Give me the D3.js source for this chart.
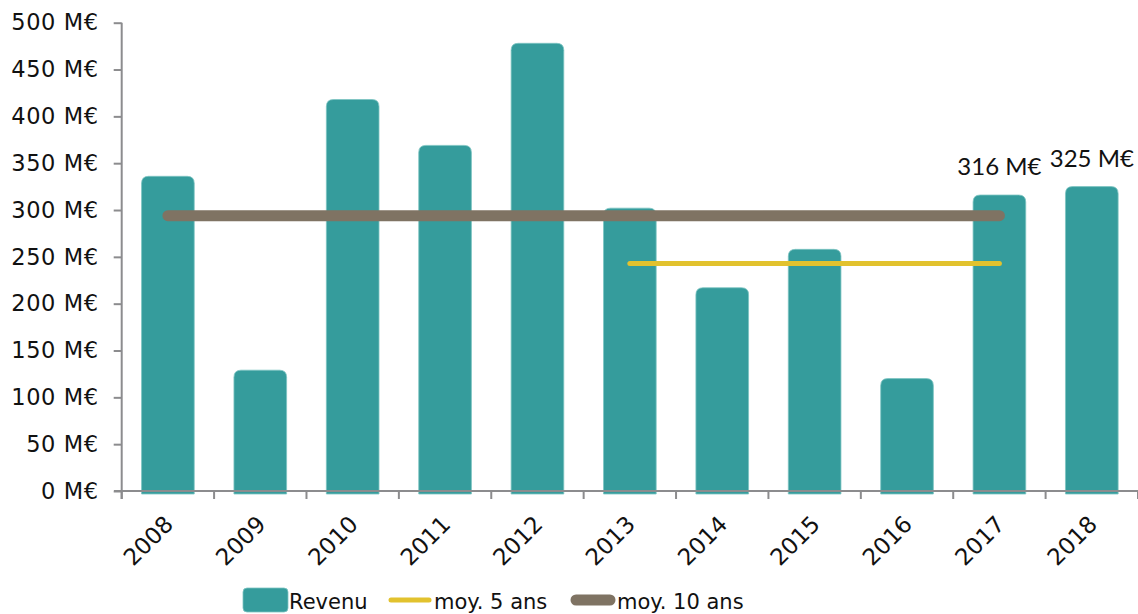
<!DOCTYPE html>
<html>
<head>
<meta charset="utf-8">
<script src="https://cdn.jsdelivr.net/npm/d3@7/dist/d3.min.js"></script>
<style>
  html, body { margin: 0; padding: 0; background: #ffffff; }
  svg { display: block; }
</style>
</head>
<body>
<script>
// Annual revenue (M€) with 5- and 10-year averages
const years   = ["2008", "2009", "2010", "2011", "2012", "2013", "2014", "2015", "2016", "2017", "2018"];
const revenue = [336, 129, 418, 369, 478, 302, 217, 258, 120, 316, 325];
const labelledYears = ["2017", "2018"];

const avg5Value  = 243;
const avg5Span   = ["2013", "2017"];
const avg10Value = 294;
const avg10Span  = ["2008", "2017"];

const yTicks = [0, 50, 100, 150, 200, 250, 300, 350, 400, 450, 500];
const legendItems = ["Revenu", "moy. 5 ans", "moy. 10 ans"];

const W = 1138, H = 614;
const colors = { bar: "#359c9c", barEdge: "#7cc4c2", avg5: "#e2c22e", avg10: "#7f7363", axis: "#8c8c8e", text: "#111111" };

const svg = d3.select("body").append("svg").attr("width", W).attr("height", H);
svg.append("rect").attr("width", W).attr("height", H).attr("fill", "#ffffff");

const x = d3.scaleBand().domain(years).range([121.7, 1138]).paddingInner(0.43).paddingOuter(0.215);
const y = d3.scaleLinear().domain([0, 500]).range([491, 22.7]);
const cx = d => x(d) + x.bandwidth() / 2;

// Bars with rounded top corners
function topRoundedBar(x0, yTop, w, yBottom, r) {
  r = Math.min(r, (yBottom - yTop), w / 2);
  return `M${x0},${yBottom}V${yTop + r}Q${x0},${yTop} ${x0 + r},${yTop}H${x0 + w - r}Q${x0 + w},${yTop} ${x0 + w},${yTop + r}V${yBottom}Z`;
}

const data = years.map((yr, i) => ({ year: yr, value: revenue[i] }));

svg.append("g").selectAll("path").data(data).join("path")
  .attr("d", d => topRoundedBar(x(d.year), y(d.value), x.bandwidth(), y(0) + 3, 7))
  .attr("fill", colors.bar)
  .attr("stroke", colors.barEdge)
  .attr("stroke-width", 0.8);

// Y axis
const yAxis = svg.append("g").attr("transform", "translate(121.7,0)")
  .call(d3.axisLeft(y).tickValues(yTicks).tickSize(8).tickPadding(15).tickFormat(d => `${d} M€`));
yAxis.select(".domain").attr("d", `M0,${y(500)}V${y(0) + 8}`);
yAxis.selectAll("path, line").attr("stroke", colors.axis).attr("stroke-width", 2);
yAxis.selectAll("text")
  .attr("fill", colors.text)
  .style("font-family", "'DejaVu Sans', Verdana, sans-serif")
  .style("font-size", "22.5px")
  .style("letter-spacing", "0.6px");

// X axis: baseline and ticks on category boundaries
const xAxis = svg.append("g");
xAxis.append("line")
  .attr("x1", 114).attr("x2", W).attr("y1", y(0)).attr("y2", y(0))
  .attr("stroke", colors.axis).attr("stroke-width", 2);
const step = x.step();
const x0 = x.range()[0];
xAxis.selectAll("line.tick").data(d3.range(years.length + 1)).join("line")
  .attr("class", "tick")
  .attr("x1", i => x0 + i * step).attr("x2", i => x0 + i * step)
  .attr("y1", y(0)).attr("y2", y(0) + 8)
  .attr("stroke", colors.axis).attr("stroke-width", 2);

xAxis.selectAll("text").data(years).join("text")
  .attr("transform", d => `translate(${cx(d) + 1},${y(0) + 29}) rotate(-45)`)
  .attr("text-anchor", "end")
  .attr("dy", "0.35em")
  .attr("fill", colors.text)
  .style("font-family", "'DejaVu Sans', Verdana, sans-serif")
  .style("font-size", "23px")
  .text(d => d);

// Average lines
svg.append("line")
  .attr("x1", cx(avg10Span[0])).attr("x2", cx(avg10Span[1]))
  .attr("y1", y(avg10Value)).attr("y2", y(avg10Value))
  .attr("stroke", colors.avg10).attr("stroke-width", 11).attr("stroke-linecap", "round");
svg.append("line")
  .attr("x1", cx(avg5Span[0])).attr("x2", cx(avg5Span[1]))
  .attr("y1", y(avg5Value)).attr("y2", y(avg5Value))
  .attr("stroke", colors.avg5).attr("stroke-width", 5).attr("stroke-linecap", "round");

// Value labels
svg.append("g").selectAll("text").data(data.filter(d => labelledYears.includes(d.year))).join("text")
  .attr("x", d => cx(d.year))
  .attr("y", d => y(d.value) - 20)
  .attr("text-anchor", "middle")
  .attr("fill", colors.text)
  .style("font-family", "Lato, 'Open Sans', sans-serif")
  .style("font-size", "24px")
  .text(d => `${d.value} M€`);

// Legend
const legend = svg.append("g")
  .style("font-family", "'DejaVu Sans', Verdana, sans-serif")
  .style("font-size", "21px");
legend.append("rect").attr("x", 243).attr("y", 588).attr("width", 45).attr("height", 24).attr("rx", 4)
  .attr("fill", colors.bar).attr("stroke", colors.barEdge).attr("stroke-width", 0.8);
legend.append("text").attr("x", 289).attr("y", 609).attr("fill", colors.text).text(legendItems[0]);
legend.append("line").attr("x1", 391).attr("x2", 429).attr("y1", 600).attr("y2", 600)
  .attr("stroke", colors.avg5).attr("stroke-width", 5).attr("stroke-linecap", "round");
legend.append("text").attr("x", 434).attr("y", 609).attr("fill", colors.text).text(legendItems[1]);
legend.append("line").attr("x1", 576).attr("x2", 610).attr("y1", 600).attr("y2", 600)
  .attr("stroke", colors.avg10).attr("stroke-width", 11).attr("stroke-linecap", "round");
legend.append("text").attr("x", 617).attr("y", 609).attr("fill", colors.text).text(legendItems[2]);
</script>
</body>
</html>
